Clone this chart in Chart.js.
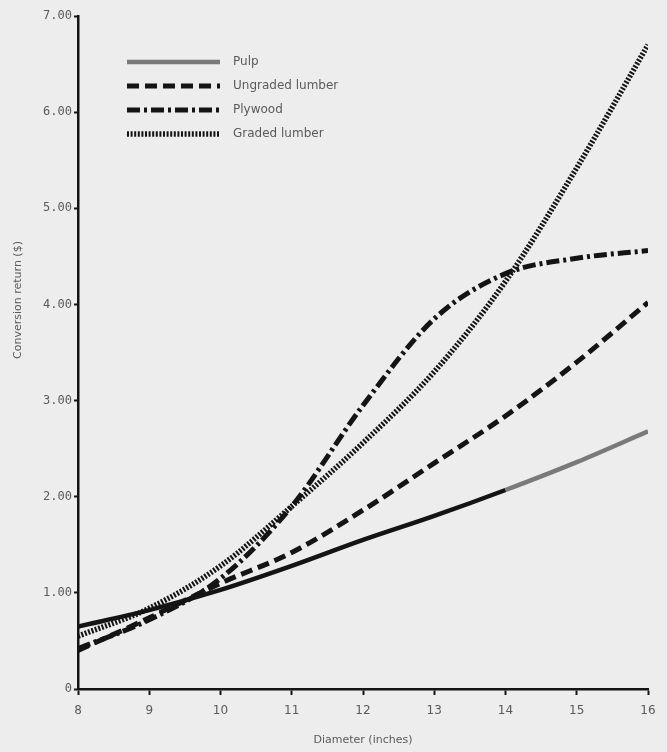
<!DOCTYPE html>
<html>
<head>
<meta charset="utf-8">
<script src="https://cdn.jsdelivr.net/npm/chart.js@4.4.1/dist/chart.umd.min.js"></script>
<style>
  html, body { margin: 0; padding: 0; background: #ededed; }
  #wrap { width: 667px; height: 752px; position: relative; }
</style>
</head>
<body>
<div id="wrap"><canvas id="conversionChart"></canvas></div>
<script>
// Diameter classes (inches) and conversion returns ($) per product
const diameters = [8, 9, 10, 11, 12, 13, 14, 15, 16];
const pulpReturn = [0.65, 0.82, 1.03, 1.28, 1.55, 1.80, 2.07, 2.36, 2.68];
const ungradedReturn = [0.40, 0.74, 1.10, 1.42, 1.86, 2.35, 2.84, 3.40, 4.02];
const plywoodReturn = [0.42, 0.72, 1.15, 1.90, 2.95, 3.85, 4.32, 4.48, 4.56];
const gradedReturn = [0.55, 0.84, 1.28, 1.90, 2.56, 3.30, 4.24, 5.42, 6.70];

const seriesNames = ['Pulp', 'Ungraded lumber', 'Plywood', 'Graded lumber'];
const yTickLabels = ['0', '1.00', '2.00', '3.00', '4.00', '5.00', '6.00', '7.00'];
const xTickLabels = ['8', '9', '10', '11', '12', '13', '14', '15', '16'];

const ink = '#141414';
const fadedInk = '#7a7a7a';
const textGray = '#5a5a5a';

function toPoints(values) {
  return diameters.map((d, i) => ({ x: d, y: values[i] }));
}

function lineSet(label, values, dash, width) {
  return {
    label,
    data: toPoints(values),
    borderColor: ink,
    borderWidth: width,
    borderDash: dash,
    borderCapStyle: 'butt',
    cubicInterpolationMode: 'monotone',
    pointRadius: 0,
    fill: false,
  };
}

const datasets = [
  lineSet(seriesNames[0], pulpReturn, [], 4.5),
  lineSet(seriesNames[1], ungradedReturn, [12, 6], 5),
  lineSet(seriesNames[2], plywoodReturn, [13, 4, 3, 4], 5),
  lineSet(seriesNames[3], gradedReturn, [2, 1.6], 5.5),
];
// the pulp line prints lighter past 14 inches
datasets[0].segment = {
  borderColor: (ctx) => (ctx.p0.parsed.x >= 14 ? fadedInk : ink),
};

// legend inside the plot (top left) and the y axis caption
const annotations = {
  id: 'annotations',
  afterDraw(chart) {
    const ctx = chart.ctx;
    const x0 = 127;
    const x1 = 220;
    const rows = [62, 86, 110, 134];
    ctx.save();
    chart.data.datasets.forEach((ds, i) => {
      const y = rows[i];
      ctx.beginPath();
      ctx.setLineDash(ds.borderDash);
      ctx.lineWidth = ds.borderWidth;
      ctx.lineCap = 'butt';
      ctx.strokeStyle = i === 0 ? fadedInk : ink;
      ctx.moveTo(x0, y);
      ctx.lineTo(x1, y);
      ctx.stroke();
      ctx.setLineDash([]);
      ctx.fillStyle = textGray;
      ctx.font = '12px "DejaVu Sans"';
      ctx.textBaseline = 'middle';
      ctx.textAlign = 'left';
      ctx.fillText(ds.label, 233, y);
    });

    ctx.translate(18, 300);
    ctx.rotate(-Math.PI / 2);
    ctx.fillStyle = textGray;
    ctx.font = '11px "DejaVu Sans"';
    ctx.textAlign = 'center';
    ctx.textBaseline = 'middle';
    ctx.fillText('Conversion return ($)', 0, 0);
    ctx.restore();
  },
};

new Chart(document.getElementById('conversionChart'), {
  type: 'line',
  data: { datasets },
  plugins: [annotations],
  options: {
    responsive: true,
    maintainAspectRatio: false,
    animation: false,
    layout: { padding: { top: 16, right: 19, left: 0, bottom: 0 } },
    plugins: {
      legend: { display: false },
      tooltip: { enabled: false },
    },
    scales: {
      x: {
        type: 'linear',
        min: 8,
        max: 16,
        afterFit(scale) { scale.height = 63; },
        afterBuildTicks(scale) {
          scale.ticks = diameters.map((v) => ({ value: v }));
        },
        ticks: {
          color: textGray,
          font: { family: 'DejaVu Sans', size: 12 },
          padding: 9,
          maxRotation: 0,
          callback: (v, i) => xTickLabels[i],
        },
        grid: { drawOnChartArea: false, drawTicks: true, tickLength: 6, tickWidth: 2, color: ink },
        border: { color: ink, width: 2.5 },
        title: {
          display: true,
          text: 'Diameter (inches)',
          color: textGray,
          font: { family: 'DejaVu Sans', size: 11 },
          padding: { top: 0, bottom: 5 },
        },
      },
      y: {
        min: 0,
        max: 7,
        afterFit(scale) { scale.width = 78; },
        afterBuildTicks(scale) {
          scale.ticks = yTickLabels.map((t, i) => ({ value: i }));
        },
        ticks: {
          color: textGray,
          font: { family: 'DejaVu Sans Mono', size: 12 },
          padding: 2,
          callback: (v, i) => yTickLabels[i],
        },
        grid: { drawOnChartArea: false, drawTicks: true, tickLength: 4, tickWidth: 2, color: ink },
        border: { color: ink, width: 2.5 },
      },
    },
  },
});
</script>
</body>
</html>
